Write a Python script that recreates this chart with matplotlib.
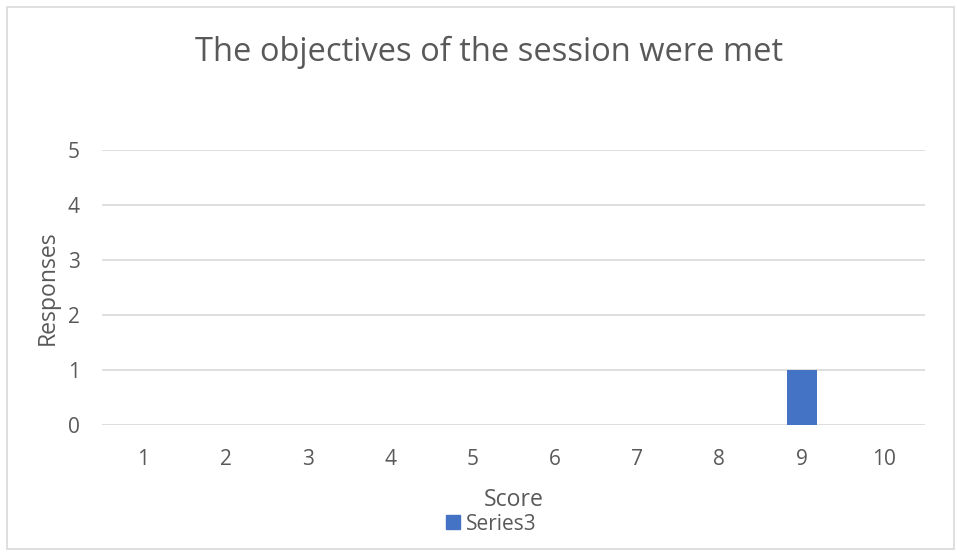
import matplotlib
matplotlib.use('Agg')
import matplotlib.pyplot as plt
import matplotlib.patches as mpatches

scores = [1, 2, 3, 4, 5, 6, 7, 8, 9, 10]
responses = [0, 0, 0, 0, 0, 0, 0, 0, 1, 0]
series_name = "Series3"
y_ticks = [0, 1, 2, 3, 4, 5]

BAR_COLOR = "#4472C4"
TEXT_COLOR = "#595959"
GRID_COLOR = "#D9D9D9"

plt.rcParams['font.family'] = ['Open Sans', 'DejaVu Sans']

fig = plt.figure(figsize=(9.57, 5.56), dpi=100)
ax = fig.add_axes([102 / 957, 1 - 425 / 556, 823 / 957, 275 / 556])

x = list(range(len(scores)))
ax.bar(x, responses, width=0.365, color=BAR_COLOR, label=series_name, zorder=3)

ax.set_xlim(-0.5, len(scores) - 0.5)
ax.set_ylim(0, 5)
ax.set_xticks(x)
ax.set_xticklabels([str(s) for s in scores])
ax.set_yticks(y_ticks)
ax.tick_params(axis='both', length=0, colors=TEXT_COLOR, labelsize=15)
ax.tick_params(axis='x', pad=17)
ax.tick_params(axis='y', pad=16)
ax.yaxis.grid(True, color=GRID_COLOR, linewidth=1.2, zorder=0)
for s in ax.spines.values():
    s.set_visible(False)

ax.set_xlabel("Score", color=TEXT_COLOR, fontsize=16.6, labelpad=13)
ax.set_ylabel("Responses", color=TEXT_COLOR, fontsize=16.6, labelpad=6)

fig.text(489 / 957, 1 - 52 / 556, "The objectives of the session were met",
         ha='center', va='center', fontsize=23.5, color=TEXT_COLOR)

handles = [mpatches.Patch(color=BAR_COLOR, label=series_name)]
fig.legend(handles=handles, loc='center', bbox_to_anchor=(491 / 957, 1 - 524 / 556),
           frameon=False, fontsize=15, labelcolor=TEXT_COLOR,
           handlelength=0.67, handleheight=0.67, handletextpad=0.29,
           borderpad=0, borderaxespad=0)

border = mpatches.Rectangle((7 / 957, 7 / 556), 947 / 957, 542 / 556,
                            transform=fig.transFigure, fill=False,
                            edgecolor=GRID_COLOR, linewidth=1.2)
fig.patches.append(border)

fig.savefig("out.png", dpi=100)
plt.close(fig)
